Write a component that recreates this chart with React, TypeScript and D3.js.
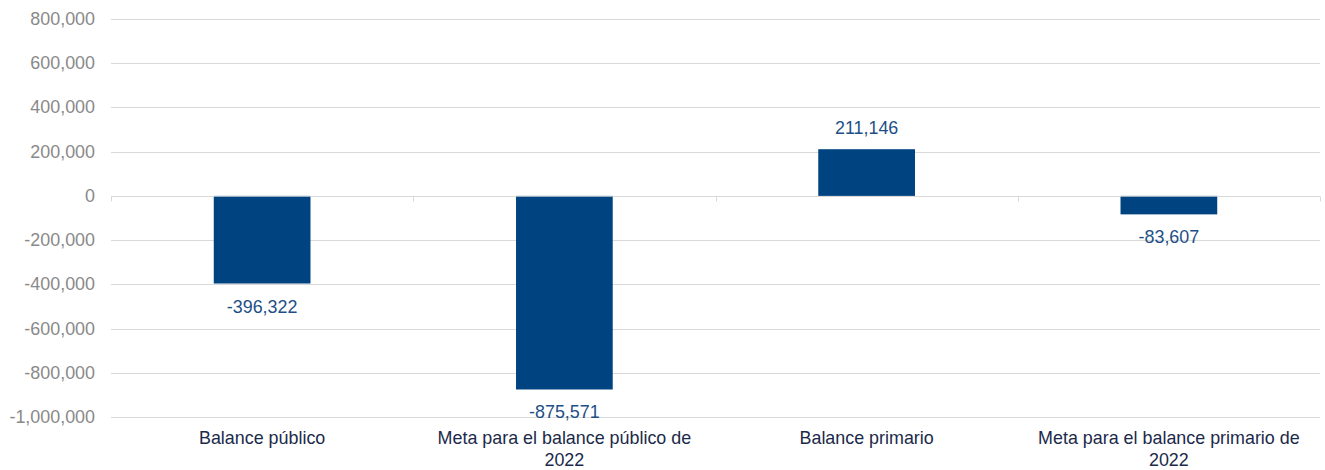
import React, { useEffect, useRef } from 'react';
import * as d3 from 'd3';

const categories = [
  'Balance público',
  'Meta para el balance público de 2022',
  'Balance primario',
  'Meta para el balance primario de 2022',
];
const values = [-396322, -875571, 211146, -83607];
const yTicks = [800000, 600000, 400000, 200000, 0, -200000, -400000, -600000, -800000, -1000000];

const W = 1325;
const H = 470;
const margin = { top: 19, right: 5, bottom: 53, left: 111 };
const BAR = '#004381';
const LABEL = '#1d4f86';
const FONT = '"Liberation Sans", Arial, sans-serif';
const FS = '17.9px';

const App = () => {
  const ref = useRef<SVGSVGElement>(null);

  useEffect(() => {
    document.body.style.margin = '0';
    const svg = d3.select(ref.current);
    svg.selectAll('*').remove();

    const x = d3.scaleBand<string>()
      .domain(categories)
      .range([margin.left, W - margin.right])
      .paddingInner(0)
      .paddingOuter(0);

    const y = d3.scaleLinear()
      .domain([-1000000, 800000])
      .range([H - margin.bottom, margin.top]);

    // Excel style: plain hyphen for negatives
    const fmt = (v: number) => d3.format(',')(v).replace('\u2212', '-');

    // gridlines
    svg.append('g')
      .selectAll('line')
      .data(yTicks)
      .join('line')
      .attr('x1', margin.left)
      .attr('x2', W - margin.right)
      .attr('y1', d => Math.round(y(d)) + 0.5)
      .attr('y2', d => Math.round(y(d)) + 0.5)
      .attr('stroke', '#d9d9d9')
      .attr('stroke-width', 1);

    // y labels
    svg.append('g')
      .selectAll('text')
      .data(yTicks)
      .join('text')
      .attr('x', 95)
      .attr('y', d => y(d) + 6)
      .attr('text-anchor', 'end')
      .style('font-family', FONT)
      .style('font-size', FS)
      .style('fill', '#898989')
      .text(d => fmt(d));

    const bw = x.bandwidth() * 0.32;
    const data = categories.map((c, i) => ({ c, v: values[i] }));

    svg.append('g')
      .selectAll('rect')
      .data(data)
      .join('rect')
      .attr('x', d => x(d.c)! + x.bandwidth() / 2 - bw / 2)
      .attr('width', bw)
      .attr('y', d => y(Math.max(0, d.v)))
      .attr('height', d => Math.abs(y(d.v) - y(0)))
      .attr('fill', BAR);

    // zero axis with category ticks
    const y0 = Math.round(y(0)) + 0.5;
    svg.append('line')
      .attr('x1', margin.left)
      .attr('x2', W - margin.right)
      .attr('y1', y0)
      .attr('y2', y0)
      .attr('stroke', '#d9d9d9')
      .attr('stroke-opacity', 0.7);

    const edges = categories.map(c => x(c)!).concat([W - margin.right]);
    svg.append('g')
      .selectAll('line')
      .data(edges)
      .join('line')
      .attr('x1', d => Math.round(d) + 0.5)
      .attr('x2', d => Math.round(d) + 0.5)
      .attr('y1', y0)
      .attr('y2', y0 + 5)
      .attr('stroke', '#d9d9d9');

    // value labels
    svg.append('g')
      .selectAll('text')
      .data(data)
      .join('text')
      .attr('x', d => x(d.c)! + x.bandwidth() / 2)
      .attr('y', d => (d.v >= 0 ? y(d.v) - 15 : y(d.v) + 29))
      .attr('text-anchor', 'middle')
      .style('font-family', FONT)
      .style('font-size', FS)
      .style('fill', LABEL)
      .text(d => fmt(d.v));

    // category labels, wrapped
    const maxW = x.bandwidth() - 20;
    const cats = svg.append('g')
      .selectAll('text')
      .data(categories)
      .join('text')
      .attr('x', d => x(d)! + x.bandwidth() / 2)
      .attr('y', 444)
      .attr('text-anchor', 'middle')
      .style('font-family', FONT)
      .style('font-size', FS)
      .style('fill', '#1b2a4a');

    cats.each(function (d) {
      const t = d3.select(this);
      const words = d.split(' ');
      let line: string[] = [];
      let tspan = t.append('tspan').attr('x', t.attr('x')).attr('dy', 0);
      words.forEach(w => {
        line.push(w);
        tspan.text(line.join(' '));
        if ((tspan.node() as SVGTextContentElement).getComputedTextLength() > maxW && line.length > 1) {
          line.pop();
          tspan.text(line.join(' '));
          line = [w];
          tspan = t.append('tspan').attr('x', t.attr('x')).attr('dy', 21.5).text(w);
        }
      });
    });
  }, []);

  return <svg ref={ref} width={W} height={H} style={{ display: 'block', background: '#fff' }} />;
};

export default App;
